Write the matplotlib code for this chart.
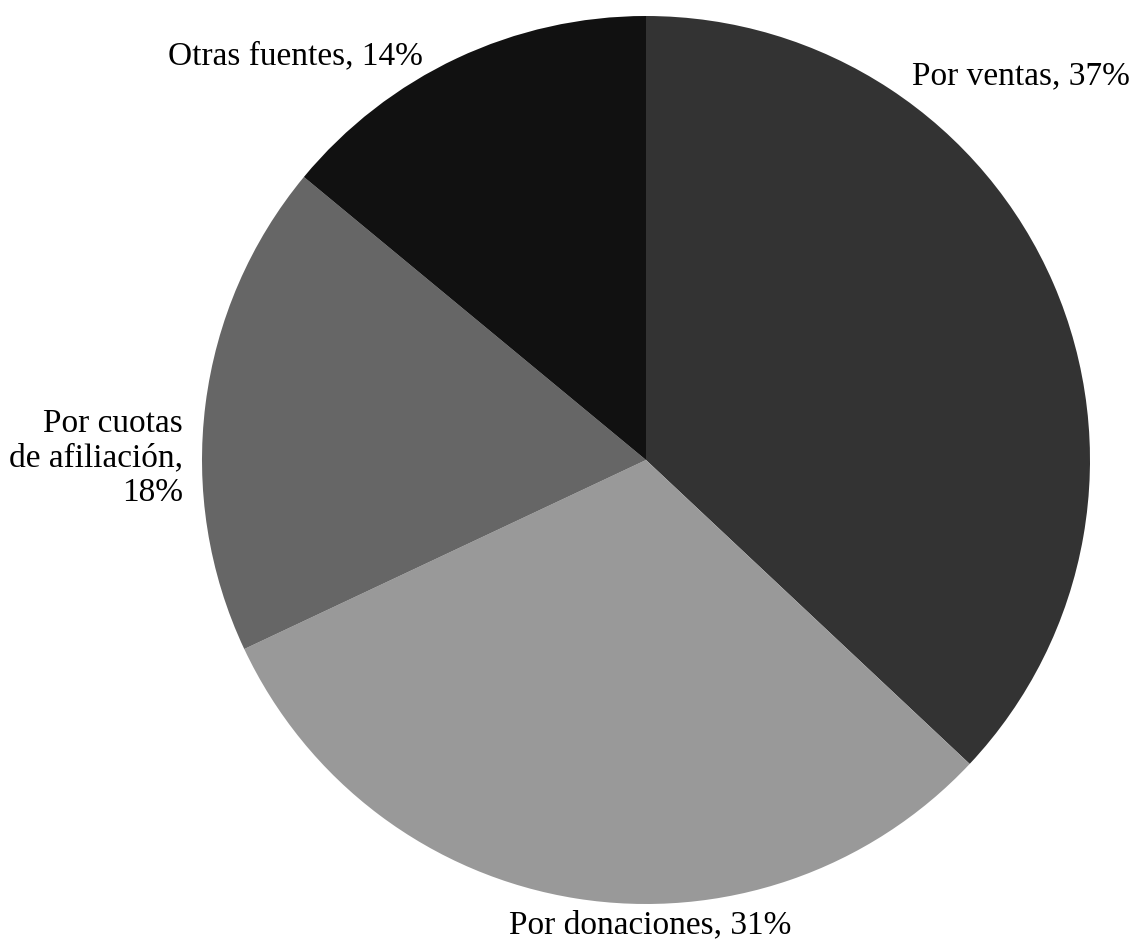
import matplotlib.pyplot as plt

# fuentes de ingresos
categorias = ["Por ventas", "Por donaciones", "Por cuotas\nde afiliación", "Otras fuentes"]
porcentajes = [37, 31, 18, 14]
colores = ["#333333", "#999999", "#666666", "#111111"]

plt.rcParams["font.family"] = ["Liberation Serif", "DejaVu Serif"]

fig = plt.figure(figsize=(11.37, 9.42), dpi=100)
# el circulo ocupa un cuadrado de 888 px centrado en (646, 460)
ax = fig.add_axes([(646 - 444) / 1137, (942 - 460 - 444) / 942, 888 / 1137, 888 / 942])

ax.pie(porcentajes, colors=colores, startangle=90, counterclock=False,
       radius=1, wedgeprops={"linewidth": 0})
ax.set_xlim(-1, 1)
ax.set_ylim(-1, 1)
ax.set_aspect("equal")
ax.axis("off")

# posicion de cada etiqueta (x, y, alineacion)
pos_etiquetas = [
    (0.845, 0.865, "center"),
    (0.009, -1.047, "center"),
    (-1.043, 0.004, "right"),
    (-0.790, 0.910, "center"),
]

for nombre, pct, (x, y, ha) in zip(categorias, porcentajes, pos_etiquetas):
    if "\n" in nombre:
        texto = nombre + ",\n" + str(pct) + "%"
    else:
        texto = nombre + ", " + str(pct) + "%"
    ax.text(x, y, texto, ha=ha, va="center", fontsize=24,
            multialignment=ha, linespacing=1.17, clip_on=False)

fig.savefig("out.png", dpi=100, facecolor="white")
